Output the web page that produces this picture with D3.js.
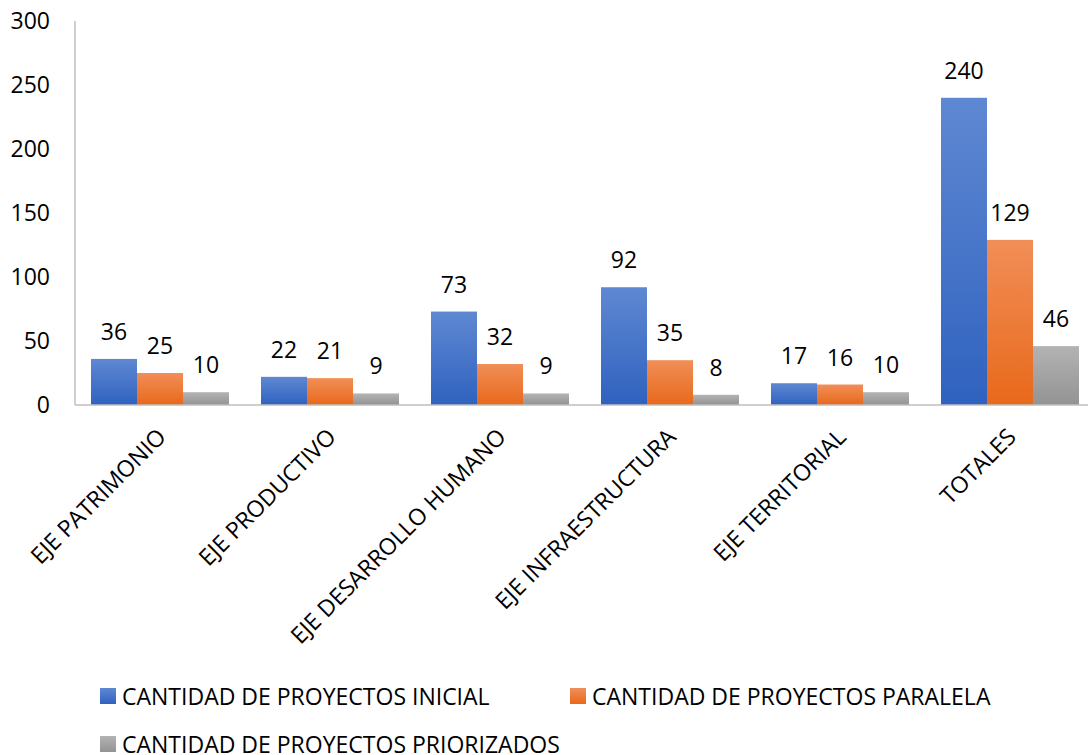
<!DOCTYPE html>
<html>
<head>
<meta charset="utf-8">
<script src="https://d3js.org/d3.v7.min.js"></script>
<style>
    body { margin: 0; background: #fff; }
    text { font-family: "Open Sans", "Noto Sans", sans-serif; fill: #000; }
</style>
</head>
<body></body>
<script>

    // data
    var categories = ["EJE PATRIMONIO", "EJE PRODUCTIVO", "EJE DESARROLLO HUMANO",
        "EJE INFRAESTRUCTURA", "EJE TERRITORIAL", "TOTALES"];
    var seriesNames = ["CANTIDAD DE PROYECTOS INICIAL", "CANTIDAD DE PROYECTOS PARALELA",
        "CANTIDAD DE PROYECTOS PRIORIZADOS"];
    var inicial = [36, 22, 73, 92, 17, 240];
    var paralela = [25, 21, 32, 35, 16, 129];
    var priorizados = [10, 9, 9, 8, 10, 46];
    var yTicks = [0, 50, 100, 150, 200, 250, 300];

    var series = [inicial, paralela, priorizados];

    // dimensions
    var width = 1088, height = 755;
    var margin = { top: 21, left: 75 };
    var plotH = 405 - margin.top;
    var step = 170;

    var svg = d3.select("body")
        .append("svg")
        .attr("width", width)
        .attr("height", height);

    // gradients
    var colors = [
        { id: "gBlue", top: "#5f88d2", bottom: "#2f62bf" },
        { id: "gOrange", top: "#f18e57", bottom: "#e8691b" },
        { id: "gGray", top: "#b3b3b3", bottom: "#939393" }
    ];
    var defs = svg.append("defs");
    colors.forEach(function (c) {
        var g = defs.append("linearGradient")
            .attr("id", c.id)
            .attr("x1", 0).attr("y1", 0).attr("x2", 0).attr("y2", 1);
        g.append("stop").attr("offset", "0%").attr("stop-color", c.top);
        g.append("stop").attr("offset", "100%").attr("stop-color", c.bottom);
    });

    var g = svg.append("g")
        .attr("transform", "translate(" + margin.left + "," + margin.top + ")");

    // scales
    var x = d3.scaleBand()
        .domain(categories)
        .range([0, step * categories.length])
        .paddingInner(32 / 170)
        .paddingOuter(16 / 170);

    var xSub = d3.scaleBand()
        .domain(d3.range(series.length))
        .range([0, x.bandwidth()]);

    var y = d3.scaleLinear()
        .domain([0, 300])
        .range([plotH, 0]);

    // y axis labels
    g.selectAll(".ytick")
        .data(yTicks)
        .enter()
        .append("text")
        .attr("x", -25)
        .attr("y", function (d) { return y(d); })
        .attr("dy", "0.36em")
        .style("text-anchor", "end")
        .style("font-size", "23px")
        .text(function (d) { return d; });

    // bars
    series.forEach(function (vals, si) {
        g.append("g")
            .selectAll("rect")
            .data(vals)
            .enter()
            .append("rect")
            .attr("x", function (d, i) { return x(categories[i]) + xSub(si); })
            .attr("y", function (d) { return y(d); })
            .attr("width", xSub.bandwidth())
            .attr("height", function (d) { return plotH - y(d); })
            .style("fill", "url(#" + colors[si].id + ")");

        g.append("g")
            .selectAll("text")
            .data(vals)
            .enter()
            .append("text")
            .attr("x", function (d, i) { return x(categories[i]) + xSub(si) + xSub.bandwidth() / 2; })
            .attr("y", function (d) { return y(d) - 19; })
            .style("text-anchor", "middle")
            .style("font-size", "23px")
            .text(function (d) { return d; });
    });

    // axis lines
    g.append("line")
        .attr("x1", 0).attr("x2", 0)
        .attr("y1", 0).attr("y2", plotH)
        .style("stroke", "#bfbfbf")
        .style("stroke-width", 1.5);
    g.append("line")
        .attr("x1", 0).attr("x2", width)
        .attr("y1", plotH).attr("y2", plotH)
        .style("stroke", "#bfbfbf")
        .style("stroke-width", 1.5);

    // category labels
    g.selectAll(".xlab")
        .data(categories)
        .enter()
        .append("text")
        .attr("transform", function (d) {
            return "translate(" + (x(d) + x.bandwidth() / 2 - 4) + "," + (plotH + 22) + ") rotate(-45)";
        })
        .attr("dy", "0.7em")
        .style("text-anchor", "end")
        .style("font-size", "23px")
        .text(function (d) { return d; });

    // legend
    var legendPos = [[100, 697], [570, 697], [100, 745]];
    var legend = svg.append("g");
    seriesNames.forEach(function (name, i) {
        var item = legend.append("g")
            .attr("transform", "translate(" + legendPos[i][0] + "," + legendPos[i][1] + ")");
        item.append("rect")
            .attr("x", 0).attr("y", -9)
            .attr("width", 16).attr("height", 16)
            .style("fill", "url(#" + colors[i].id + ")");
        item.append("text")
            .attr("x", 22)
            .attr("y", 0)
            .attr("dy", "0.36em")
            .style("font-size", "23px")
            .text(name);
    });

</script>
</html>
